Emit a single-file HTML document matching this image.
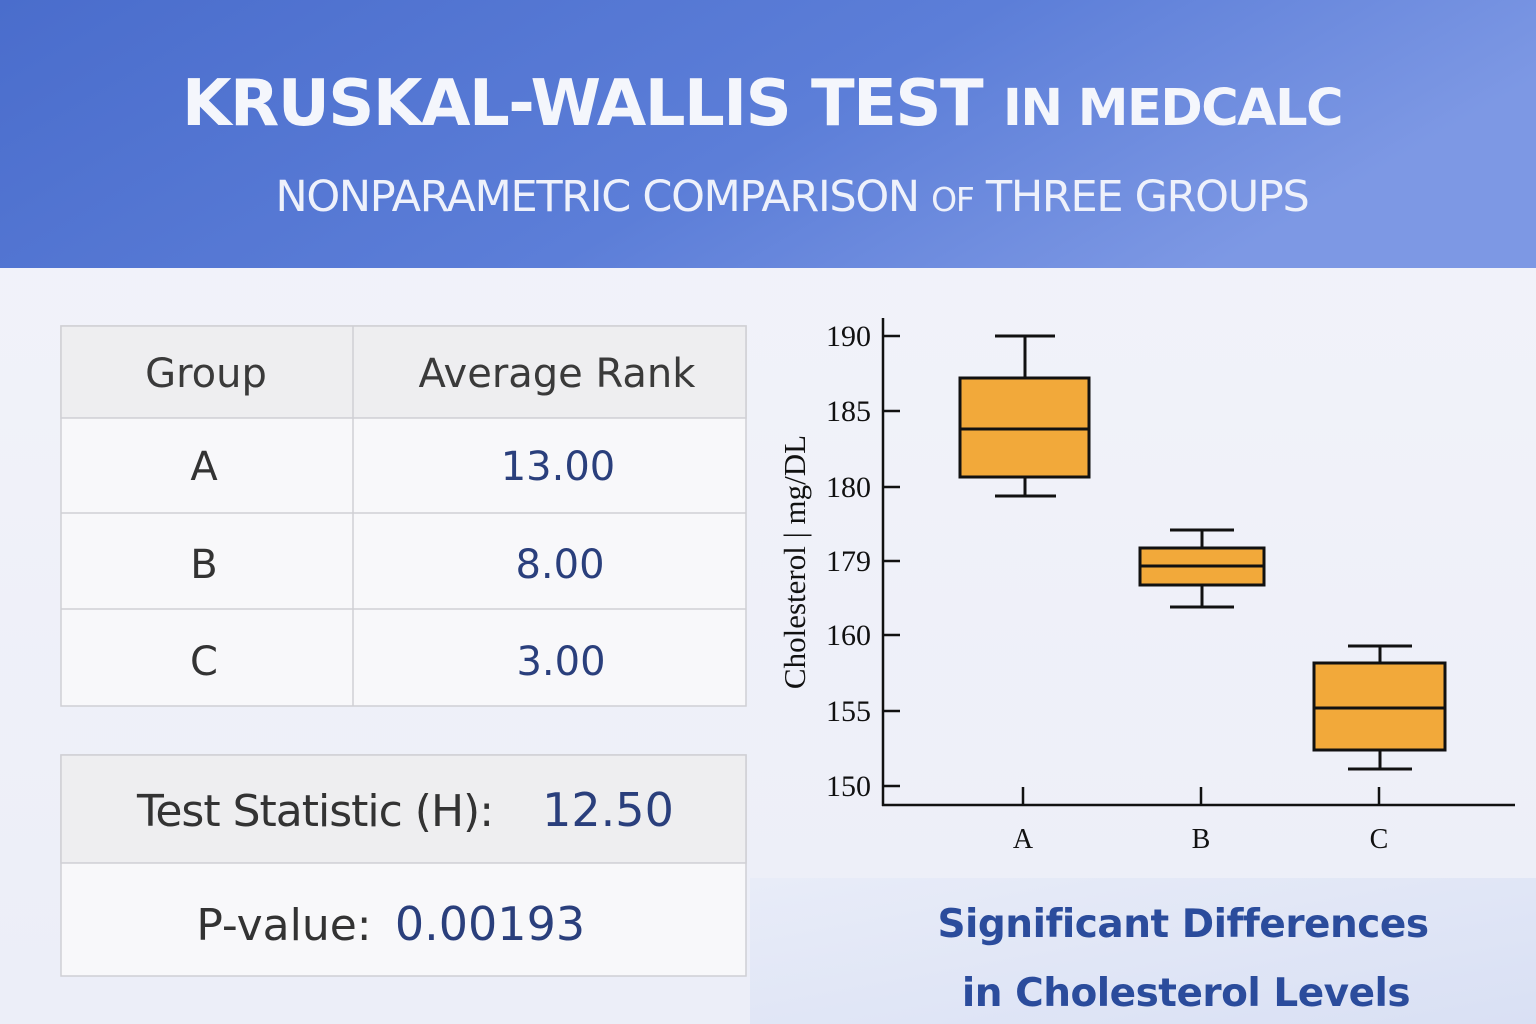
<!DOCTYPE html>
<html><head><meta charset="utf-8"><style>
html,body{margin:0;padding:0;width:1536px;height:1024px;overflow:hidden}
body{background:linear-gradient(180deg,#f3f4fa 0%,#eceef8 100%);font-family:"DejaVu Sans","Liberation Sans",sans-serif}
</style></head><body>
<svg width="1536" height="1024" xmlns="http://www.w3.org/2000/svg" style="position:absolute;left:0;top:0">
<defs>
<linearGradient id="hd" x1="0" y1="0" x2="1" y2="0.3"><stop offset="0" stop-color="#4a6dcc"/><stop offset="0.6" stop-color="#5c7ed8"/><stop offset="1" stop-color="#7d98e4"/></linearGradient>
<linearGradient id="br" x1="0" y1="0" x2="1" y2="1"><stop offset="0" stop-color="#e8ecf8"/><stop offset="1" stop-color="#d9e0f4"/></linearGradient>
</defs>
<rect x="0" y="0" width="1536" height="268" fill="url(#hd)"/>
<text x="762" y="125" text-anchor="middle" fill="#f4f6fc" font-family="DejaVu Sans" font-weight="bold" font-size="64" letter-spacing="-1.5">KRUSKAL-WALLIS TEST <tspan font-size="51">IN MEDCALC</tspan></text>
<text x="792" y="211" text-anchor="middle" fill="#eef1fb" font-family="DejaVu Sans" font-size="43" letter-spacing="-1.3">NONPARAMETRIC COMPARISON <tspan font-size="33">OF</tspan> THREE GROUPS</text>
<rect x="750" y="878" width="786" height="146" fill="url(#br)"/>
<rect x="61" y="326" width="685" height="380" fill="#f8f8fa" stroke="#cfcfd4" stroke-width="1.5"/>
<rect x="61" y="326" width="685" height="92" fill="#eeeef0" stroke="#cfcfd4" stroke-width="1.5"/>
<line x1="353" y1="326" x2="353" y2="706" stroke="#cfcfd4" stroke-width="1.5"/>
<line x1="61" y1="513" x2="746" y2="513" stroke="#cfcfd4" stroke-width="1.5"/>
<line x1="61" y1="609" x2="746" y2="609" stroke="#cfcfd4" stroke-width="1.5"/>
<g font-family="DejaVu Sans" font-size="40" text-anchor="middle">
<text x="206" y="387" fill="#3a3a3a">Group</text>
<text x="557" y="387" fill="#3a3a3a">Average Rank</text>
<text x="204" y="480" fill="#333">A</text><text x="558" y="480" fill="#2a3f7c">13.00</text>
<text x="204" y="578" fill="#333">B</text><text x="560" y="578" fill="#2a3f7c">8.00</text>
<text x="204" y="675" fill="#333">C</text><text x="561" y="675" fill="#2a3f7c">3.00</text>
</g>
<rect x="61" y="755" width="685" height="221" fill="#f8f8fa" stroke="#cfcfd4" stroke-width="1.5"/>
<rect x="61" y="755" width="685" height="108" fill="#eeeef0" stroke="#cfcfd4" stroke-width="1.5"/>
<text x="315" y="826" text-anchor="middle" font-family="DejaVu Sans" font-size="44" fill="#333" letter-spacing="-1">Test Statistic (H):</text>
<text x="608" y="826" text-anchor="middle" font-family="DejaVu Sans" font-size="46" fill="#2a3f7c">12.50</text>
<text x="284" y="940" text-anchor="middle" font-family="DejaVu Sans" font-size="44" fill="#333">P-value:</text>
<text x="490" y="940" text-anchor="middle" font-family="DejaVu Sans" font-size="46" fill="#2a3f7c">0.00193</text>
<g stroke="#111" stroke-width="2.5" fill="none">
<line x1="883" y1="318" x2="883" y2="806"/>
<line x1="882" y1="805" x2="1515" y2="805"/>
<line x1="883" y1="336" x2="900" y2="336"/><line x1="883" y1="411" x2="900" y2="411"/><line x1="883" y1="487" x2="900" y2="487"/><line x1="883" y1="561" x2="900" y2="561"/><line x1="883" y1="635" x2="900" y2="635"/><line x1="883" y1="711" x2="900" y2="711"/><line x1="883" y1="786" x2="900" y2="786"/>
<line x1="1023" y1="787" x2="1023" y2="805"/><line x1="1201" y1="787" x2="1201" y2="805"/><line x1="1379" y1="787" x2="1379" y2="805"/>
</g>
<g font-family="Liberation Serif" font-size="30" fill="#111" text-anchor="end">
<text x="871" y="346">190</text><text x="871" y="421">185</text><text x="871" y="497">180</text><text x="871" y="571">179</text><text x="871" y="645">160</text><text x="871" y="721">155</text><text x="871" y="796">150</text>
</g>
<g font-family="Liberation Serif" font-size="28" fill="#111" text-anchor="middle">
<text x="1023" y="848">A</text><text x="1201" y="848">B</text><text x="1379" y="848">C</text>
</g>
<text transform="translate(805,562) rotate(-90)" text-anchor="middle" font-family="Liberation Serif" font-size="31" fill="#111">Cholesterol | mg/DL</text>
<g stroke="#111" stroke-width="3" fill="#f2a93a">
<line x1="1025" y1="336" x2="1025" y2="378"/><line x1="995" y1="336" x2="1055" y2="336"/>
<line x1="1025" y1="477" x2="1025" y2="496"/><line x1="995" y1="496" x2="1056" y2="496"/>
<rect x="960" y="378" width="129" height="99"/><line x1="960" y1="429" x2="1089" y2="429"/>
<line x1="1202" y1="530" x2="1202" y2="548"/><line x1="1170" y1="530" x2="1234" y2="530"/>
<line x1="1202" y1="585" x2="1202" y2="607"/><line x1="1170" y1="607" x2="1234" y2="607"/>
<rect x="1140" y="548" width="124" height="37"/><line x1="1140" y1="566" x2="1264" y2="566"/>
<line x1="1380" y1="646" x2="1380" y2="663"/><line x1="1348" y1="646" x2="1412" y2="646"/>
<line x1="1380" y1="750" x2="1380" y2="769"/><line x1="1348" y1="769" x2="1412" y2="769"/>
<rect x="1314" y="663" width="131" height="87"/><line x1="1314" y1="708" x2="1445" y2="708"/>
</g>
<g font-family="DejaVu Sans" font-weight="bold" font-size="39" fill="#2b4c9c" text-anchor="middle" letter-spacing="-0.5">
<text x="1183" y="937">Significant Differences</text>
<text x="1186" y="1006">in Cholesterol Levels</text>
</g>
</svg>
</body></html>
